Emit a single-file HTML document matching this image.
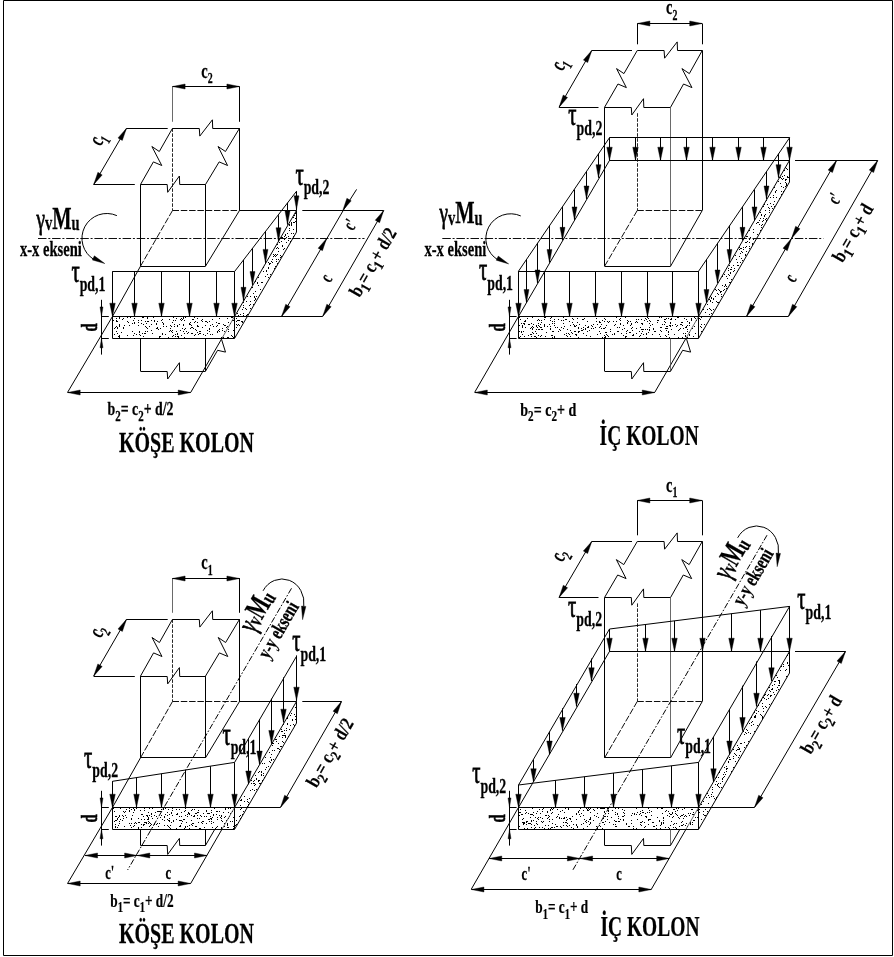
<!DOCTYPE html>
<html lang="tr"><head><meta charset="utf-8"><title>Zımbalama kayma gerilmeleri</title>
<style>
html,body{margin:0;padding:0;background:#fff;}
body{width:894px;height:957px;overflow:hidden;}
svg{display:block;will-change:transform;}
svg path{fill:none;stroke:#000;stroke-width:1;}
svg path.a{fill:#000;stroke:#000;stroke-width:.4;}
svg path.d{stroke-dasharray:6.5 1.8;stroke-width:.95;}
svg path.dv{stroke-dasharray:3.6 1.4;stroke-width:.85;}
svg path.axo{stroke-dasharray:6 1.8 1.6 1.8;stroke-width:1;}
svg path.ax{stroke-dasharray:8.5 1.8 2 1.8;stroke-width:.95;}
svg path.t{stroke:#444;stroke-width:.8;}
svg path.s{stroke:#000;stroke-width:1;}
svg tspan.n{font-weight:normal;stroke-width:.8;}
svg tspan.h{stroke-width:.6;}
svg text{font-family:"Liberation Serif","DejaVu Serif",serif;font-weight:bold;fill:#000;stroke:#000;stroke-width:.25;}
</style></head><body>
<svg width="894" height="957" viewBox="0 0 894 957">
<path d="M3.5 0.5H892.5V955.5H3.5Z"/>
<path class="t" d="M172.5 86.6L172.5 121.8"/>
<path d="M239.5 86.6L239.5 121.8"/>
<path d="M172.5 86.5L239.5 86.5"/>
<path class="a" d="M172.5 86.5L185.1 84L185.1 89Z"/>
<path class="a" d="M239.5 86.5L226.9 89L226.9 84Z"/>
<path d="M126.5 128.5L167.7 128.5"/>
<path d="M93.7 184.5L134.8 184.5"/>
<path d="M126.5 128.3L93.7 184.5"/>
<path class="a" d="M126.5 128.3L122.31 140.44L117.99 137.92Z"/>
<path class="a" d="M93.7 184.5L97.89 172.36L102.21 174.88Z"/>
<path d="M172.5 128.5L199.3 128.5L199.8 136.1L212.4 119.8L212.7 128.5L239.5 128.5"/>
<path d="M140.5 184.5L167.2 184.5L167.7 192.3L179.4 176L179.7 184.5L205.5 184.5"/>
<path d="M172.5 128.3L159.29 151.5L151.89 146.5L161.77 165.5L153.37 161.9L140.5 184.5"/>
<path d="M239.5 128.3L225.46 151.5L218.06 146.5L227.57 165.5L219.17 161.9L205.5 184.5"/>
<path d="M140.5 184.5L140.5 266.2"/>
<path d="M205.5 184.5L205.5 266.2"/>
<path d="M239.5 128.3L239.5 210.5"/>
<path d="M140.5 266.5L205.5 266.5"/>
<path d="M205.5 266.2L239.5 210.5"/>
<path class="dv" d="M172.5 128.3L172.5 210.5"/>
<path class="d" d="M172.5 210.5L239.5 210.5"/>
<path class="d" d="M172.5 210.5L140.5 266.2"/>
<path class="s" d="M122 316.5h1M124 316.5h1M127 316.5h1M133 316.5h1M135 316.5h1M138 316.5h1M155 316.5h1M162 316.5h1M168 316.5h1M172 316.5h1M179 316.5h1M207 316.5h1M208 316.5h1M232 316.5h1M119 317.5h1M127 317.5h1M130 317.5h1M142 317.5h1M143 317.5h1M147 317.5h1M153 317.5h1M173 317.5h1M183 317.5h1M185 317.5h1M194 317.5h1M231 317.5h1M232 317.5h1M234 317.5h1M116 318.5h1M119 318.5h1M123 318.5h1M134 318.5h1M147 318.5h1M176 318.5h1M181 318.5h1M183 318.5h1M197 318.5h1M219 318.5h1M227 318.5h1M122 319.5h1M162 319.5h1M169 319.5h1M180 319.5h1M182 319.5h1M192 319.5h1M193 319.5h1M202 319.5h1M212 319.5h1M113 320.5h1M116 320.5h1M133 320.5h1M138 320.5h1M141 320.5h1M151 320.5h1M154 320.5h1M161 320.5h1M173 320.5h1M175 320.5h1M181 320.5h1M184 320.5h1M201 320.5h1M232 320.5h1M233 320.5h1M116 321.5h1M117 321.5h1M127 321.5h1M145 321.5h1M147 321.5h1M148 321.5h1M154 321.5h1M157 321.5h1M195 321.5h1M202 321.5h1M205 321.5h1M206 321.5h1M209 321.5h1M128 322.5h1M134 322.5h1M138 322.5h1M162 322.5h1M172 322.5h1M190 322.5h1M194 322.5h1M197 322.5h1M207 322.5h1M216 322.5h1M228 322.5h1M234 322.5h1M132 323.5h1M134 323.5h1M141 323.5h1M146 323.5h1M156 323.5h1M163 323.5h1M189 323.5h1M218 323.5h1M219 323.5h1M230 323.5h1M119 324.5h1M143 324.5h1M151 324.5h1M156 324.5h1M163 324.5h1M174 324.5h1M179 324.5h1M183 324.5h1M189 324.5h1M190 324.5h1M212 324.5h1M223 324.5h1M119 325.5h1M124 325.5h1M129 325.5h1M138 325.5h1M170 325.5h1M177 325.5h1M183 325.5h1M191 325.5h1M197 325.5h1M205 325.5h1M210 325.5h1M217 325.5h1M224 325.5h1M225 325.5h1M116 326.5h1M119 326.5h1M145 326.5h1M149 326.5h1M163 326.5h1M166 326.5h1M171 326.5h1M174 326.5h1M177 326.5h1M197 326.5h1M198 326.5h1M213 326.5h1M216 326.5h1M227 326.5h1M112 327.5h1M115 327.5h1M117 327.5h1M123 327.5h1M146 327.5h1M157 327.5h1M191 327.5h1M192 327.5h1M202 327.5h1M226 327.5h1M114 328.5h1M117 328.5h1M123 328.5h1M147 328.5h1M156 328.5h1M157 328.5h1M160 328.5h1M170 328.5h1M182 328.5h1M185 328.5h1M190 328.5h1M193 328.5h1M209 328.5h1M222 328.5h1M234 328.5h1M158 329.5h1M184 329.5h1M195 329.5h1M209 329.5h1M219 329.5h1M228 329.5h1M151 330.5h1M170 330.5h1M172 330.5h1M180 330.5h1M196 330.5h1M207 330.5h1M218 330.5h1M222 330.5h1M233 330.5h1M116 331.5h1M132 331.5h1M139 331.5h1M145 331.5h1M147 331.5h1M169 331.5h1M171 331.5h1M176 331.5h1M183 331.5h1M186 331.5h1M199 331.5h1M200 331.5h1M209 331.5h1M217 331.5h1M219 331.5h1M224 331.5h1M228 331.5h1M234 331.5h1M121 332.5h1M139 332.5h1M172 332.5h1M188 332.5h1M197 332.5h1M217 332.5h1M117 333.5h1M134 333.5h1M142 333.5h1M144 333.5h1M145 333.5h1M152 333.5h1M162 333.5h1M177 333.5h1M184 333.5h1M187 333.5h1M191 333.5h1M192 333.5h1M199 333.5h1M200 333.5h1M207 333.5h1M114 334.5h1M136 334.5h1M139 334.5h1M162 334.5h1M165 334.5h1M175 334.5h1M177 334.5h1M195 334.5h1M198 334.5h1M203 334.5h1M210 334.5h1M212 334.5h1M119 335.5h1M127 335.5h1M133 335.5h1M140 335.5h1M173 335.5h1M181 335.5h1M194 335.5h1M205 335.5h1M231 335.5h1M118 336.5h1M119 336.5h1M143 336.5h1M159 336.5h1M160 336.5h1M172 336.5h1M175 336.5h1M177 336.5h1M178 336.5h1M232 336.5h1M119 337.5h1M159 337.5h1M168 337.5h1M178 337.5h1M184 337.5h1M221 337.5h1M223 337.5h1M227 337.5h1M228 337.5h1M233 337.5h1"/>
<path class="s" d="M295 213.5h1M294 215.5h1M293 217.5h1M295 218.5h1M295 221.5h1M291 222.5h1M293 222.5h1M294 222.5h1M291 223.5h1M289 224.5h1M291 224.5h1M289 225.5h1M291 225.5h1M289 228.5h1M293 229.5h1M289 230.5h1M287 233.5h1M291 233.5h1M293 233.5h1M285 234.5h1M285 235.5h1M284 236.5h1M288 236.5h1M293 236.5h1M281 237.5h1M282 237.5h1M286 237.5h1M282 238.5h1M290 238.5h1M284 239.5h1M288 240.5h1M281 241.5h1M290 241.5h1M279 242.5h1M286 242.5h1M277 244.5h1M282 245.5h1M282 246.5h1M277 247.5h1M276 248.5h1M278 248.5h1M284 248.5h1M283 249.5h1M278 251.5h1M273 254.5h1M275 254.5h1M277 254.5h1M274 255.5h1M276 255.5h1M280 255.5h1M273 256.5h1M275 256.5h1M281 256.5h1M280 257.5h1M268 258.5h1M272 259.5h1M276 259.5h1M278 259.5h1M271 261.5h1M276 261.5h1M268 262.5h1M272 262.5h1M269 263.5h1M270 263.5h1M277 263.5h1M269 264.5h1M275 266.5h1M263 267.5h1M268 267.5h1M268 268.5h1M274 268.5h1M266 270.5h1M263 271.5h1M266 271.5h1M267 274.5h1M270 274.5h1M265 276.5h1M270 276.5h1M258 277.5h1M268 277.5h1M255 281.5h1M257 282.5h1M261 282.5h1M262 282.5h1M257 283.5h1M258 285.5h1M252 287.5h1M260 289.5h1M255 291.5h1M253 293.5h1M247 296.5h1M250 296.5h1M254 296.5h1M256 296.5h1M254 297.5h1M255 298.5h1M255 299.5h1M254 300.5h1M246 301.5h1M250 301.5h1M243 302.5h1M250 304.5h1M253 304.5h1M243 305.5h1M249 305.5h1M243 307.5h1M245 308.5h1M250 308.5h1M242 309.5h1M246 309.5h1M237 313.5h1M243 313.5h1M240 314.5h1M247 314.5h1M238 315.5h1M243 315.5h1M246 315.5h1M236 318.5h1M237 320.5h1M238 320.5h1M239 320.5h1M236 321.5h1M241 321.5h1M242 321.5h1M242 322.5h1M236 324.5h1M238 324.5h1M237 325.5h1M239 325.5h1M236 327.5h1"/>
<path d="M112.5 316.5L234.5 316.5L234.5 338.5L112.5 338.5Z"/>
<path d="M234.6 316.4L296.5 210.5L296.5 232.1L234.6 338.3"/>
<path d="M239.5 210.5L296.4 210.5"/>
<path d="M140.5 266.2L112.5 316.4L67.6 392.3"/>
<path class="t" d="M234.6 316.4L221.96 338.3"/>
<path d="M221.96 338.3L190.78 392.3"/>
<path d="M67.6 392.5L190.78 392.5"/>
<path class="a" d="M67.6 392.5L80.2 390L80.2 395Z"/>
<path class="a" d="M190.78 392.5L178.18 395L178.18 390Z"/>
<path d="M140.5 338.3L140.5 371.2"/>
<path d="M205.5 338.3L205.5 371.2"/>
<path d="M140.5 371.5L167.2 371.5L167.7 379L179.4 362.7L179.7 371.5L205.5 371.5"/>
<path d="M205.5 371.2L217.57 350.3L225.5 352.1L221.5 339.2L222.1 338.3"/>
<path d="M101.5 299.8L101.5 354.6"/>
<path class="a" d="M101.5 316.4L100 306.9L103 306.9Z"/>
<path class="a" d="M101.5 338.3L103 347.8L100 347.8Z"/>
<path d="M101.5 316.5L108.8 316.5"/>
<path d="M101.5 338.5L108.8 338.5"/>
<text transform="translate(97.1 327.4) rotate(-90) scale(0.66 1)" text-anchor="middle"><tspan font-size="22.5" class="h">d</tspan></text>
<path d="M112.5 316.4L112.5 271.5L234.6 271.5"/>
<path d="M112.5 271.5L112.5 316.4"/>
<path class="a" d="M112.5 316.4L109.75 303.2L115.25 303.2Z"/>
<path d="M134.5 271.5L134.5 316.4"/>
<path class="a" d="M134.5 316.4L131.75 303.2L137.25 303.2Z"/>
<path d="M161.5 271.5L161.5 316.4"/>
<path class="a" d="M161.5 316.4L158.75 303.2L164.25 303.2Z"/>
<path d="M189.5 271.5L189.5 316.4"/>
<path class="a" d="M189.5 316.4L186.75 303.2L192.25 303.2Z"/>
<path d="M216.5 271.5L216.5 316.4"/>
<path class="a" d="M216.5 316.4L213.75 303.2L219.25 303.2Z"/>
<path d="M234.5 271.5L234.5 316.4"/>
<path class="a" d="M234.5 316.4L231.75 303.2L237.25 303.2Z"/>
<path d="M234.6 271.5L296.4 191.4"/>
<path d="M296.5 191.4L296.5 210.5"/>
<path d="M243.5 259.83L243.5 300.81"/>
<path class="a" d="M243.5 300.81L241 287.31L246 287.31Z"/>
<path d="M252.5 248.04L252.5 285.05"/>
<path class="a" d="M252.5 285.05L250 271.55L255 271.55Z"/>
<path d="M265.5 231.45L265.5 262.88"/>
<path class="a" d="M265.5 262.88L263 249.38L268 249.38Z"/>
<path d="M278.5 215.25L278.5 241.23"/>
<path class="a" d="M278.5 241.23L276 227.73L281 227.73Z"/>
<path d="M287.5 202.81L287.5 224.6"/>
<path class="a" d="M287.5 224.6L285 211.1L290 211.1Z"/>
<path d="M296.5 191.4L296.5 209.36"/>
<path class="a" d="M296.5 209.36L294 195.86L299 195.86Z"/>
<path d="M234.6 316.5L322.7 316.5"/>
<path d="M302.3 210.5L383.7 210.5"/>
<path d="M322.7 316.4L383.7 210.5"/>
<path class="a" d="M322.7 316.4L326.82 304.23L331.16 306.73Z"/>
<path class="a" d="M383.7 210.5L379.58 222.67L375.24 220.17Z"/>
<path d="M281.6 316.4L343.2 210.5L356.6 189.4"/>
<path class="a" d="M281.6 316.4L285.73 304.24L290.07 306.74Z"/>
<path class="a" d="M326.58 238.5L322.44 250.66L318.11 248.16Z"/>
<path class="a" d="M342.74 210.5L346.88 198.34L351.21 200.84Z"/>
<path class="ax" d="M38 238.5L364.5 238.5"/>
<path d="M116.89 215.64 A24.8 24.8 0 0 0 94.03 259.56"/>
<path class="a" d="M104.8 263.6L92.32 259.93L94.38 255.82Z"/>
<text transform="translate(36.6 228.8) scale(0.66 1)"><tspan font-size="29" class="n">γ</tspan><tspan font-size="22" dy="1.5">v</tspan><tspan font-size="31" dy="-1.5">M</tspan><tspan font-size="22" dy="1.5">u</tspan></text>
<text transform="translate(20 256.3) scale(0.71 1)"><tspan font-size="20.5">x-x ekseni</tspan></text>
<text transform="translate(71.4 281.6) scale(0.66 1)"><tspan font-size="31" class="n">τ</tspan><tspan font-size="21" dy="9.4">pd,1</tspan></text>
<text transform="translate(295.4 185) scale(0.66 1)"><tspan font-size="31" class="n">τ</tspan><tspan font-size="21" dy="9.4">pd,2</tspan></text>
<text transform="translate(353.1 231.5) rotate(-60) scale(0.66 1)"><tspan font-size="19">c'</tspan></text>
<text transform="translate(330 283.5) rotate(-60) scale(0.66 1)"><tspan font-size="19">c</tspan></text>
<text transform="translate(378.3 265.3) rotate(-60) scale(0.76 0.92)" text-anchor="middle"><tspan font-size="21">b</tspan><tspan font-size="16" dy="5.5">1</tspan><tspan font-size="21" dy="-5.5">= c</tspan><tspan font-size="16" dy="5.5">1</tspan><tspan font-size="21" dy="-5.5">+ d/2</tspan></text>
<text transform="translate(107.5 415.2) scale(0.73 1)"><tspan font-size="19">b</tspan><tspan font-size="15" dy="5.5">2</tspan><tspan font-size="19" dy="-5.5">= c</tspan><tspan font-size="15" dy="5.5">2</tspan><tspan font-size="19" dy="-5.5">+ d/2</tspan></text>
<text transform="translate(119 451.6) scale(0.66 1)"><tspan font-size="30.3">KÖŞE KOLON</tspan></text>
<text transform="translate(201.2 77.6) scale(0.66 1)"><tspan font-size="22">c</tspan><tspan font-size="15" dy="5.5">2</tspan></text>
<text transform="translate(100.5 147) rotate(-60) scale(0.66 1)"><tspan font-size="22">c</tspan><tspan font-size="15" dy="5.5">1</tspan></text>
<path d="M637.5 23.8L637.5 44.3"/>
<path d="M702.5 23.8L702.5 44.3"/>
<path d="M637.3 23.5L702.3 23.5"/>
<path class="a" d="M637.3 23.5L649.9 21L649.9 26Z"/>
<path class="a" d="M702.3 23.5L689.7 26L689.7 21Z"/>
<path d="M591.8 50.5L632 50.5"/>
<path d="M559.1 107.5L598.5 107.5"/>
<path d="M591.8 50.4L559.1 107.2"/>
<path class="a" d="M591.8 50.4L587.68 62.57L583.35 60.07Z"/>
<path class="a" d="M559.1 107.2L563.22 95.03L567.55 97.53Z"/>
<path d="M637.3 50.5L664.1 50.5L664.6 58.2L677.2 41.9L677.5 50.5L702.3 50.5"/>
<path d="M604.6 107.5L631.3 107.5L631.8 115L643.5 98.7L643.8 107.5L670.6 107.5"/>
<path d="M637.3 50.4L623.94 73.6L616.54 68.6L626.36 87.6L617.96 84L604.6 107.2"/>
<path d="M702.3 50.4L689.35 73.6L681.95 68.6L691.95 87.6L683.55 84L670.6 107.2"/>
<path d="M604.5 107.2L604.5 266.2"/>
<path class="t" d="M670.5 107.2L670.5 266.2"/>
<path d="M702.5 50.4L702.5 210.4"/>
<path d="M604.6 266.5L670.6 266.5"/>
<path d="M670.6 266.2L702.3 210.4"/>
<path class="dv" d="M637.5 113.2L637.5 210.4"/>
<path class="d" d="M637.3 210.5L702.3 210.5"/>
<path class="d" d="M637.3 210.4L604.6 266.2"/>
<path class="s" d="M541 316.5h1M545 316.5h1M561 316.5h1M571 316.5h1M576 316.5h1M583 316.5h1M587 316.5h1M611 316.5h1M629 316.5h1M646 316.5h1M648 316.5h1M653 316.5h1M660 316.5h1M664 316.5h1M677 316.5h1M690 316.5h1M519 317.5h1M532 317.5h1M544 317.5h1M545 317.5h1M551 317.5h1M563 317.5h1M616 317.5h1M625 317.5h1M647 317.5h1M659 317.5h1M661 317.5h1M677 317.5h1M678 317.5h1M694 317.5h1M527 318.5h1M550 318.5h1M572 318.5h1M577 318.5h1M584 318.5h1M596 318.5h1M604 318.5h1M620 318.5h1M645 318.5h1M648 318.5h1M666 318.5h1M668 318.5h1M671 318.5h1M684 318.5h1M691 318.5h1M695 318.5h1M698 318.5h1M520 319.5h1M538 319.5h1M544 319.5h1M554 319.5h1M558 319.5h1M565 319.5h1M566 319.5h1M573 319.5h1M582 319.5h1M583 319.5h1M605 319.5h1M619 319.5h1M636 319.5h1M638 319.5h1M641 319.5h1M646 319.5h1M664 319.5h1M665 319.5h1M670 319.5h1M671 319.5h1M675 319.5h1M686 319.5h1M691 319.5h1M525 320.5h1M537 320.5h1M539 320.5h1M541 320.5h1M550 320.5h1M561 320.5h1M563 320.5h1M602 320.5h1M620 320.5h1M627 320.5h1M644 320.5h1M649 320.5h1M657 320.5h1M658 320.5h1M691 320.5h1M696 320.5h1M524 321.5h1M525 321.5h1M552 321.5h1M554 321.5h1M569 321.5h1M587 321.5h1M596 321.5h1M599 321.5h1M604 321.5h1M607 321.5h1M609 321.5h1M613 321.5h1M616 321.5h1M628 321.5h1M630 321.5h1M636 321.5h1M647 321.5h1M650 321.5h1M664 321.5h1M687 321.5h1M541 322.5h1M572 322.5h1M577 322.5h1M599 322.5h1M600 322.5h1M608 322.5h1M627 322.5h1M635 322.5h1M637 322.5h1M657 322.5h1M665 322.5h1M670 322.5h1M681 322.5h1M682 322.5h1M689 322.5h1M521 323.5h1M523 323.5h1M524 323.5h1M531 323.5h1M538 323.5h1M552 323.5h1M554 323.5h1M563 323.5h1M620 323.5h1M627 323.5h1M631 323.5h1M641 323.5h1M642 323.5h1M649 323.5h1M670 323.5h1M689 323.5h1M524 324.5h1M528 324.5h1M529 324.5h1M533 324.5h1M540 324.5h1M544 324.5h1M549 324.5h1M573 324.5h1M579 324.5h1M593 324.5h1M597 324.5h1M601 324.5h1M615 324.5h1M620 324.5h1M631 324.5h1M642 324.5h1M652 324.5h1M662 324.5h1M664 324.5h1M675 324.5h1M680 324.5h1M681 324.5h1M518 325.5h1M519 325.5h1M522 325.5h1M536 325.5h1M538 325.5h1M544 325.5h1M554 325.5h1M570 325.5h1M574 325.5h1M576 325.5h1M585 325.5h1M591 325.5h1M606 325.5h1M614 325.5h1M623 325.5h1M630 325.5h1M650 325.5h1M669 325.5h1M670 325.5h1M672 325.5h1M677 325.5h1M682 325.5h1M687 325.5h1M689 325.5h1M522 326.5h1M532 326.5h1M536 326.5h1M539 326.5h1M544 326.5h1M547 326.5h1M550 326.5h1M564 326.5h1M574 326.5h1M575 326.5h1M588 326.5h1M592 326.5h1M600 326.5h1M666 326.5h1M667 326.5h1M670 326.5h1M676 326.5h1M686 326.5h1M694 326.5h1M522 327.5h1M525 327.5h1M531 327.5h1M533 327.5h1M537 327.5h1M540 327.5h1M541 327.5h1M555 327.5h1M557 327.5h1M561 327.5h1M578 327.5h1M583 327.5h1M587 327.5h1M588 327.5h1M595 327.5h1M599 327.5h1M605 327.5h1M617 327.5h1M619 327.5h1M632 327.5h1M640 327.5h1M649 327.5h1M660 327.5h1M661 327.5h1M685 327.5h1M686 327.5h1M530 328.5h1M532 328.5h1M550 328.5h1M563 328.5h1M578 328.5h1M581 328.5h1M585 328.5h1M591 328.5h1M593 328.5h1M601 328.5h1M603 328.5h1M604 328.5h1M624 328.5h1M631 328.5h1M636 328.5h1M653 328.5h1M665 328.5h1M666 328.5h1M667 328.5h1M680 328.5h1M683 328.5h1M692 328.5h1M532 329.5h1M536 329.5h1M538 329.5h1M539 329.5h1M541 329.5h1M542 329.5h1M550 329.5h1M559 329.5h1M567 329.5h1M583 329.5h1M585 329.5h1M610 329.5h1M622 329.5h1M641 329.5h1M642 329.5h1M643 329.5h1M645 329.5h1M647 329.5h1M649 329.5h1M653 329.5h1M671 329.5h1M679 329.5h1M687 329.5h1M560 330.5h1M570 330.5h1M581 330.5h1M582 330.5h1M589 330.5h1M627 330.5h1M632 330.5h1M649 330.5h1M660 330.5h1M666 330.5h1M678 330.5h1M519 331.5h1M521 331.5h1M523 331.5h1M535 331.5h1M552 331.5h1M553 331.5h1M558 331.5h1M574 331.5h1M575 331.5h1M578 331.5h1M579 331.5h1M587 331.5h1M599 331.5h1M610 331.5h1M617 331.5h1M618 331.5h1M626 331.5h1M639 331.5h1M642 331.5h1M654 331.5h1M655 331.5h1M661 331.5h1M668 331.5h1M687 331.5h1M521 332.5h1M532 332.5h1M546 332.5h1M571 332.5h1M578 332.5h1M605 332.5h1M606 332.5h1M629 332.5h1M630 332.5h1M648 332.5h1M668 332.5h1M689 332.5h1M533 333.5h1M536 333.5h1M566 333.5h1M568 333.5h1M572 333.5h1M583 333.5h1M600 333.5h1M614 333.5h1M621 333.5h1M626 333.5h1M636 333.5h1M641 333.5h1M646 333.5h1M683 333.5h1M685 333.5h1M695 333.5h1M522 334.5h1M530 334.5h1M531 334.5h1M564 334.5h1M569 334.5h1M575 334.5h1M576 334.5h1M597 334.5h1M606 334.5h1M612 334.5h1M614 334.5h1M633 334.5h1M643 334.5h1M646 334.5h1M652 334.5h1M659 334.5h1M668 334.5h1M674 334.5h1M689 334.5h1M518 335.5h1M528 335.5h1M538 335.5h1M541 335.5h1M551 335.5h1M552 335.5h1M566 335.5h1M576 335.5h1M586 335.5h1M604 335.5h1M607 335.5h1M623 335.5h1M632 335.5h1M633 335.5h1M640 335.5h1M665 335.5h1M685 335.5h1M689 335.5h1M518 336.5h1M520 336.5h1M524 336.5h1M531 336.5h1M534 336.5h1M535 336.5h1M540 336.5h1M545 336.5h1M554 336.5h1M567 336.5h1M570 336.5h1M590 336.5h1M605 336.5h1M608 336.5h1M625 336.5h1M626 336.5h1M639 336.5h1M660 336.5h1M666 336.5h1M685 336.5h1M693 336.5h1M519 337.5h1M536 337.5h1M552 337.5h1M554 337.5h1M578 337.5h1M602 337.5h1M604 337.5h1M605 337.5h1M625 337.5h1M646 337.5h1M669 337.5h1M678 337.5h1M682 337.5h1M687 337.5h1"/>
<path class="s" d="M789 164.5h1M789 166.5h1M785 167.5h1M786 168.5h1M787 169.5h1M789 169.5h1M784 170.5h1M784 175.5h1M782 176.5h1M787 176.5h1M780 177.5h1M787 177.5h1M788 177.5h1M789 177.5h1M781 178.5h1M783 178.5h1M782 179.5h1M785 179.5h1M786 179.5h1M785 180.5h1M778 181.5h1M785 182.5h1M780 183.5h1M786 183.5h1M786 184.5h1M786 185.5h1M781 186.5h1M785 186.5h1M774 187.5h1M783 187.5h1M776 190.5h1M775 191.5h1M781 191.5h1M783 191.5h1M775 192.5h1M781 194.5h1M773 195.5h1M770 197.5h1M773 197.5h1M776 197.5h1M779 198.5h1M766 200.5h1M774 201.5h1M770 203.5h1M764 204.5h1M767 204.5h1M773 204.5h1M763 206.5h1M771 206.5h1M774 206.5h1M768 207.5h1M769 208.5h1M772 208.5h1M765 210.5h1M769 210.5h1M760 212.5h1M769 212.5h1M761 214.5h1M765 214.5h1M761 215.5h1M764 215.5h1M764 216.5h1M760 218.5h1M763 218.5h1M766 218.5h1M765 219.5h1M759 220.5h1M763 220.5h1M766 220.5h1M762 221.5h1M757 222.5h1M758 222.5h1M756 223.5h1M759 224.5h1M762 224.5h1M761 225.5h1M761 227.5h1M753 229.5h1M749 230.5h1M760 230.5h1M753 232.5h1M757 234.5h1M746 236.5h1M747 236.5h1M750 237.5h1M749 239.5h1M753 239.5h1M755 240.5h1M747 241.5h1M745 242.5h1M746 242.5h1M749 242.5h1M752 243.5h1M752 244.5h1M746 246.5h1M749 246.5h1M739 247.5h1M743 247.5h1M745 247.5h1M740 248.5h1M741 248.5h1M749 248.5h1M739 249.5h1M743 249.5h1M736 251.5h1M741 251.5h1M746 251.5h1M742 252.5h1M740 253.5h1M745 254.5h1M735 255.5h1M745 255.5h1M739 256.5h1M732 258.5h1M741 258.5h1M736 259.5h1M742 260.5h1M737 262.5h1M740 262.5h1M729 265.5h1M733 265.5h1M737 265.5h1M738 265.5h1M731 267.5h1M728 268.5h1M734 268.5h1M730 269.5h1M731 269.5h1M728 270.5h1M734 270.5h1M733 271.5h1M730 272.5h1M730 273.5h1M724 274.5h1M728 274.5h1M729 275.5h1M722 276.5h1M726 276.5h1M727 278.5h1M731 279.5h1M729 282.5h1M730 282.5h1M725 284.5h1M722 285.5h1M725 285.5h1M724 286.5h1M726 286.5h1M726 288.5h1M715 289.5h1M718 289.5h1M724 289.5h1M716 290.5h1M719 290.5h1M723 290.5h1M720 291.5h1M721 291.5h1M720 292.5h1M717 293.5h1M718 294.5h1M721 294.5h1M710 296.5h1M715 296.5h1M721 296.5h1M711 297.5h1M711 298.5h1M713 298.5h1M709 299.5h1M713 299.5h1M710 300.5h1M710 301.5h1M716 301.5h1M712 302.5h1M717 302.5h1M718 302.5h1M707 304.5h1M709 308.5h1M703 309.5h1M707 309.5h1M710 309.5h1M713 309.5h1M711 310.5h1M705 312.5h1M711 313.5h1M709 314.5h1M707 316.5h1M701 317.5h1M699 318.5h1M700 319.5h1M701 324.5h1M704 324.5h1M700 326.5h1M701 327.5h1M703 329.5h1M701 331.5h1"/>
<path d="M518.5 316.5L698.5 316.5L698.5 338.5L518.5 338.5Z"/>
<path d="M698.6 316.4L789.5 160.4L789.5 182L698.6 338.3"/>
<path d="M609.5 160.5L789.6 160.5"/>
<path d="M609.5 160.4L518.5 316.4L474.74 392.2"/>
<path class="t" d="M698.6 316.4L685.96 338.3"/>
<path d="M685.96 338.3L654.84 392.2"/>
<path d="M474.74 392.5L654.84 392.5"/>
<path class="a" d="M474.74 392.5L487.34 390L487.34 395Z"/>
<path class="a" d="M654.84 392.5L642.24 395L642.24 390Z"/>
<path d="M604.5 338.3L604.5 371.2"/>
<path class="t" d="M670.5 338.3L670.5 371.2"/>
<path d="M604.6 371.5L631.3 371.5L631.8 379L643.5 362.7L643.8 371.5L670.6 371.5"/>
<path d="M670.6 371.2L682.67 350.3L690.6 352.1L686.6 339.2L687.2 338.3"/>
<path d="M509.5 299.8L509.5 354.6"/>
<path class="a" d="M509.5 316.4L508 306.9L511 306.9Z"/>
<path class="a" d="M509.5 338.3L511 347.8L508 347.8Z"/>
<path d="M509.3 316.5L516.6 316.5"/>
<path d="M509.3 338.5L516.6 338.5"/>
<text transform="translate(504.9 327.4) rotate(-90) scale(0.66 1)" text-anchor="middle"><tspan font-size="22.5" class="h">d</tspan></text>
<path d="M518.5 316.4L518.5 271.5L698.5 271.5L698.5 316.4"/>
<path d="M518.5 271.2L518.5 316.4"/>
<path class="a" d="M518.5 316.4L515.75 303.2L521.25 303.2Z"/>
<path d="M544.5 271.2L544.5 316.4"/>
<path class="a" d="M544.5 316.4L541.75 303.2L547.25 303.2Z"/>
<path d="M569.5 271.2L569.5 316.4"/>
<path class="a" d="M569.5 316.4L566.75 303.2L572.25 303.2Z"/>
<path d="M595.5 271.2L595.5 316.4"/>
<path class="a" d="M595.5 316.4L592.75 303.2L598.25 303.2Z"/>
<path d="M621.5 271.2L621.5 316.4"/>
<path class="a" d="M621.5 316.4L618.75 303.2L624.25 303.2Z"/>
<path d="M647.5 271.2L647.5 316.4"/>
<path class="a" d="M647.5 316.4L644.75 303.2L650.25 303.2Z"/>
<path d="M672.5 271.2L672.5 316.4"/>
<path class="a" d="M672.5 316.4L669.75 303.2L675.25 303.2Z"/>
<path d="M698.5 271.2L698.5 316.4"/>
<path class="a" d="M698.5 316.4L695.75 303.2L701.25 303.2Z"/>
<path d="M609.5 160.4L609.5 137.5L789.5 137.5L789.5 160.4"/>
<path d="M609.5 137.7L609.5 160.4"/>
<path class="a" d="M609.5 160.4L606.75 147.2L612.25 147.2Z"/>
<path d="M635.5 137.7L635.5 160.4"/>
<path class="a" d="M635.5 160.4L632.75 147.2L638.25 147.2Z"/>
<path d="M660.5 137.7L660.5 160.4"/>
<path class="a" d="M660.5 160.4L657.75 147.2L663.25 147.2Z"/>
<path d="M686.5 137.7L686.5 160.4"/>
<path class="a" d="M686.5 160.4L683.75 147.2L689.25 147.2Z"/>
<path d="M712.5 137.7L712.5 160.4"/>
<path class="a" d="M712.5 160.4L709.75 147.2L715.25 147.2Z"/>
<path d="M738.5 137.7L738.5 160.4"/>
<path class="a" d="M738.5 160.4L735.75 147.2L741.25 147.2Z"/>
<path d="M763.5 137.7L763.5 160.4"/>
<path class="a" d="M763.5 160.4L760.75 147.2L766.25 147.2Z"/>
<path d="M789.5 137.7L789.5 160.4"/>
<path class="a" d="M789.5 160.4L786.75 147.2L792.25 147.2Z"/>
<path d="M518.5 271.2L609.5 137.7"/>
<path d="M698.6 271.2L789.6 137.7"/>
<path d="M526.5 259.46L526.5 302.54"/>
<path class="a" d="M526.5 302.54L524 289.54L529 289.54Z"/>
<path d="M706.5 259.46L706.5 302.54"/>
<path class="a" d="M706.5 302.54L704 289.54L709 289.54Z"/>
<path d="M537.5 242.89L537.5 282.97"/>
<path class="a" d="M537.5 282.97L535 269.97L540 269.97Z"/>
<path d="M717.5 242.89L717.5 282.97"/>
<path class="a" d="M717.5 282.97L715 269.97L720 269.97Z"/>
<path d="M549.5 225.58L549.5 262.53"/>
<path class="a" d="M549.5 262.53L547 249.53L552 249.53Z"/>
<path d="M729.5 225.58L729.5 262.53"/>
<path class="a" d="M729.5 262.53L727 249.53L732 249.53Z"/>
<path d="M562.5 206.8L562.5 240.36"/>
<path class="a" d="M562.5 240.36L560 227.36L565 227.36Z"/>
<path d="M742.5 206.8L742.5 240.36"/>
<path class="a" d="M742.5 240.36L740 227.36L745 227.36Z"/>
<path d="M574.5 189.49L574.5 219.92"/>
<path class="a" d="M574.5 219.92L572 206.92L577 206.92Z"/>
<path d="M754.5 189.49L754.5 219.92"/>
<path class="a" d="M754.5 219.92L752 206.92L757 206.92Z"/>
<path d="M586.5 171.74L586.5 198.97"/>
<path class="a" d="M586.5 198.97L584 185.97L589 185.97Z"/>
<path d="M766.5 171.74L766.5 198.97"/>
<path class="a" d="M766.5 198.97L764 185.97L769 185.97Z"/>
<path d="M598.5 153.69L598.5 177.66"/>
<path class="a" d="M598.5 177.66L596 164.66L601 164.66Z"/>
<path d="M778.5 153.69L778.5 177.66"/>
<path class="a" d="M778.5 177.66L776 164.66L781 164.66Z"/>
<path d="M698.6 316.5L788.4 316.5"/>
<path d="M795 160.5L877.7 160.5"/>
<path d="M788.4 316.4L877.7 160.4"/>
<path class="a" d="M788.4 316.4L792.49 304.22L796.83 306.71Z"/>
<path class="a" d="M877.7 160.4L873.61 172.58L869.27 170.09Z"/>
<path d="M746.5 316.4L836.57 160.4"/>
<path class="a" d="M746.5 316.4L750.63 304.24L754.97 306.74Z"/>
<path class="a" d="M836.57 160.4L832.43 172.56L828.1 170.06Z"/>
<path class="a" d="M791.48 238.5L787.34 250.66L783.01 248.16Z"/>
<path class="a" d="M791.48 238.5L795.61 226.34L799.94 228.84Z"/>
<path class="ax" d="M442.3 238.5L823.3 238.5"/>
<path d="M520.79 215.94 A24.8 24.8 0 0 0 497.93 259.86"/>
<path class="a" d="M508.7 263.9L496.22 260.23L498.28 256.12Z"/>
<text transform="translate(439.6 223) scale(0.66 1)"><tspan font-size="29" class="n">γ</tspan><tspan font-size="22" dy="1.5">v</tspan><tspan font-size="31" dy="-1.5">M</tspan><tspan font-size="22" dy="1.5">u</tspan></text>
<text transform="translate(424.5 256.3) scale(0.71 1)"><tspan font-size="20.5">x-x ekseni</tspan></text>
<text transform="translate(479 280.3) scale(0.66 1)"><tspan font-size="31" class="n">τ</tspan><tspan font-size="21" dy="9.4">pd,1</tspan></text>
<text transform="translate(568.3 125.2) scale(0.66 1)"><tspan font-size="31" class="n">τ</tspan><tspan font-size="21" dy="9.4">pd,2</tspan></text>
<text transform="translate(837.5 205.5) rotate(-60) scale(0.66 1)"><tspan font-size="19">c'</tspan></text>
<text transform="translate(794.3 283.5) rotate(-60) scale(0.66 1)"><tspan font-size="19">c</tspan></text>
<text transform="translate(858.2 235.9) rotate(-60) scale(0.76 0.92)" text-anchor="middle"><tspan font-size="21">b</tspan><tspan font-size="16" dy="5.5">1</tspan><tspan font-size="21" dy="-5.5">= c</tspan><tspan font-size="16" dy="5.5">1</tspan><tspan font-size="21" dy="-5.5">+ d</tspan></text>
<text transform="translate(520.3 415.6) scale(0.74 1)"><tspan font-size="19">b</tspan><tspan font-size="15" dy="5.5">2</tspan><tspan font-size="19" dy="-5.5">= c</tspan><tspan font-size="15" dy="5.5">2</tspan><tspan font-size="19" dy="-5.5">+ d</tspan></text>
<text transform="translate(599.6 445.3) scale(0.65 1)"><tspan font-size="30">İÇ KOLON</tspan></text>
<text transform="translate(666 14) scale(0.66 1)"><tspan font-size="22">c</tspan><tspan font-size="15" dy="5.5">2</tspan></text>
<text transform="translate(562.2 72) rotate(-60) scale(0.66 1)"><tspan font-size="22">c</tspan><tspan font-size="15" dy="5.5">1</tspan></text>
<path class="t" d="M172.5 578.1L172.5 612.8"/>
<path d="M239.5 578.1L239.5 612.8"/>
<path d="M172.5 578.5L239.5 578.5"/>
<path class="a" d="M172.5 578.5L185.1 576L185.1 581Z"/>
<path class="a" d="M239.5 578.5L226.9 581L226.9 576Z"/>
<path d="M126.5 619.5L167.7 619.5"/>
<path d="M93.7 676.5L134.8 676.5"/>
<path d="M126.5 619.3L93.7 676.1"/>
<path class="a" d="M126.5 619.3L122.36 631.46L118.03 628.96Z"/>
<path class="a" d="M93.7 676.1L97.84 663.94L102.17 666.44Z"/>
<path d="M172.5 619.5L199.3 619.5L199.8 627.1L212.4 610.8L212.7 619.5L239.5 619.5"/>
<path d="M140.5 676.5L167.2 676.5L167.7 683.9L179.4 667.6L179.7 676.5L205.5 676.5"/>
<path d="M172.5 619.3L159.43 642.5L152.03 637.5L161.97 656.5L153.57 652.9L140.5 676.1"/>
<path d="M239.5 619.3L225.61 642.5L218.21 637.5L227.79 656.5L219.39 652.9L205.5 676.1"/>
<path d="M140.5 676.1L140.5 757.8"/>
<path d="M205.5 676.1L205.5 757.8"/>
<path d="M239.5 619.3L239.5 701.5"/>
<path d="M140.5 757.5L205.5 757.5"/>
<path d="M205.5 757.8L239.5 701.5"/>
<path class="dv" d="M172.5 619.3L172.5 701.5"/>
<path class="d" d="M172.5 701.5L239.5 701.5"/>
<path class="d" d="M172.5 701.5L140.5 757.8"/>
<path class="s" d="M114 807.5h1M118 807.5h1M121 807.5h1M125 807.5h1M129 807.5h1M140 807.5h1M142 807.5h1M160 807.5h1M162 807.5h1M199 807.5h1M212 807.5h1M219 807.5h1M221 807.5h1M227 807.5h1M231 807.5h1M113 808.5h1M120 808.5h1M129 808.5h1M133 808.5h1M136 808.5h1M144 808.5h1M149 808.5h1M152 808.5h1M163 808.5h1M165 808.5h1M172 808.5h1M185 808.5h1M214 808.5h1M225 808.5h1M228 808.5h1M230 808.5h1M126 809.5h1M131 809.5h1M134 809.5h1M161 809.5h1M163 809.5h1M168 809.5h1M176 809.5h1M179 809.5h1M192 809.5h1M194 809.5h1M225 809.5h1M129 810.5h1M134 810.5h1M140 810.5h1M144 810.5h1M172 810.5h1M185 810.5h1M191 810.5h1M198 810.5h1M206 810.5h1M211 810.5h1M114 811.5h1M123 811.5h1M125 811.5h1M129 811.5h1M157 811.5h1M158 811.5h1M159 811.5h1M160 811.5h1M184 811.5h1M206 811.5h1M216 811.5h1M217 811.5h1M219 811.5h1M232 811.5h1M124 812.5h1M133 812.5h1M148 812.5h1M155 812.5h1M167 812.5h1M171 812.5h1M181 812.5h1M188 812.5h1M197 812.5h1M198 812.5h1M211 812.5h1M223 812.5h1M228 812.5h1M234 812.5h1M151 813.5h1M171 813.5h1M177 813.5h1M188 813.5h1M189 813.5h1M195 813.5h1M196 813.5h1M203 813.5h1M207 813.5h1M208 813.5h1M209 813.5h1M230 813.5h1M141 814.5h1M142 814.5h1M151 814.5h1M165 814.5h1M169 814.5h1M176 814.5h1M177 814.5h1M187 814.5h1M189 814.5h1M213 814.5h1M216 814.5h1M119 815.5h1M122 815.5h1M125 815.5h1M132 815.5h1M146 815.5h1M147 815.5h1M149 815.5h1M154 815.5h1M161 815.5h1M167 815.5h1M172 815.5h1M185 815.5h1M191 815.5h1M194 815.5h1M197 815.5h1M200 815.5h1M213 815.5h1M219 815.5h1M221 815.5h1M115 816.5h1M116 816.5h1M119 816.5h1M123 816.5h1M143 816.5h1M147 816.5h1M151 816.5h1M156 816.5h1M164 816.5h1M179 816.5h1M181 816.5h1M187 816.5h1M193 816.5h1M194 816.5h1M201 816.5h1M204 816.5h1M206 816.5h1M210 816.5h1M221 816.5h1M225 816.5h1M229 816.5h1M118 817.5h1M126 817.5h1M148 817.5h1M160 817.5h1M164 817.5h1M212 817.5h1M217 817.5h1M220 817.5h1M224 817.5h1M233 817.5h1M234 817.5h1M117 818.5h1M123 818.5h1M131 818.5h1M138 818.5h1M148 818.5h1M152 818.5h1M169 818.5h1M197 818.5h1M199 818.5h1M210 818.5h1M211 818.5h1M221 818.5h1M228 818.5h1M117 819.5h1M120 819.5h1M131 819.5h1M141 819.5h1M144 819.5h1M147 819.5h1M148 819.5h1M162 819.5h1M167 819.5h1M176 819.5h1M183 819.5h1M184 819.5h1M208 819.5h1M209 819.5h1M211 819.5h1M217 819.5h1M115 820.5h1M116 820.5h1M122 820.5h1M164 820.5h1M168 820.5h1M169 820.5h1M173 820.5h1M179 820.5h1M180 820.5h1M181 820.5h1M191 820.5h1M221 820.5h1M226 820.5h1M114 821.5h1M119 821.5h1M148 821.5h1M169 821.5h1M173 821.5h1M182 821.5h1M202 821.5h1M203 821.5h1M209 821.5h1M211 821.5h1M222 821.5h1M230 821.5h1M232 821.5h1M135 822.5h1M138 822.5h1M139 822.5h1M144 822.5h1M145 822.5h1M146 822.5h1M149 822.5h1M171 822.5h1M186 822.5h1M198 822.5h1M201 822.5h1M213 822.5h1M119 823.5h1M129 823.5h1M131 823.5h1M134 823.5h1M136 823.5h1M146 823.5h1M148 823.5h1M150 823.5h1M154 823.5h1M157 823.5h1M159 823.5h1M181 823.5h1M192 823.5h1M193 823.5h1M202 823.5h1M206 823.5h1M211 823.5h1M224 823.5h1M227 823.5h1M115 824.5h1M141 824.5h1M143 824.5h1M144 824.5h1M151 824.5h1M154 824.5h1M156 824.5h1M191 824.5h1M227 824.5h1M118 825.5h1M130 825.5h1M134 825.5h1M143 825.5h1M150 825.5h1M164 825.5h1M167 825.5h1M170 825.5h1M180 825.5h1M189 825.5h1M192 825.5h1M227 825.5h1M115 826.5h1M124 826.5h1M133 826.5h1M149 826.5h1M158 826.5h1M168 826.5h1M179 826.5h1M180 826.5h1M185 826.5h1M187 826.5h1M195 826.5h1M196 826.5h1M217 826.5h1M224 826.5h1M233 826.5h1M115 827.5h1M117 827.5h1M131 827.5h1M138 827.5h1M141 827.5h1M152 827.5h1M169 827.5h1M185 827.5h1M204 827.5h1M212 827.5h1M216 827.5h1M221 827.5h1M227 827.5h1M228 827.5h1M138 828.5h1M170 828.5h1M176 828.5h1M184 828.5h1M189 828.5h1M199 828.5h1M200 828.5h1M215 828.5h1M221 828.5h1M233 828.5h1"/>
<path class="s" d="M295 707.5h1M291 713.5h1M294 714.5h1M290 715.5h1M295 716.5h1M287 717.5h1M287 718.5h1M292 719.5h1M295 719.5h1M292 720.5h1M287 723.5h1M283 724.5h1M287 724.5h1M293 724.5h1M290 725.5h1M294 725.5h1M286 728.5h1M281 729.5h1M289 729.5h1M284 730.5h1M286 730.5h1M281 731.5h1M282 731.5h1M284 733.5h1M282 735.5h1M283 735.5h1M284 735.5h1M285 735.5h1M279 736.5h1M285 736.5h1M288 736.5h1M275 737.5h1M282 737.5h1M285 737.5h1M275 739.5h1M276 739.5h1M276 741.5h1M282 741.5h1M283 742.5h1M272 743.5h1M273 743.5h1M278 743.5h1M272 745.5h1M280 746.5h1M281 746.5h1M277 748.5h1M278 748.5h1M279 749.5h1M272 750.5h1M274 750.5h1M279 751.5h1M269 752.5h1M271 754.5h1M277 755.5h1M265 757.5h1M270 757.5h1M271 759.5h1M273 759.5h1M271 760.5h1M269 761.5h1M270 762.5h1M262 763.5h1M264 763.5h1M268 766.5h1M266 767.5h1M265 769.5h1M259 771.5h1M261 771.5h1M258 772.5h1M261 772.5h1M263 773.5h1M261 774.5h1M255 775.5h1M261 775.5h1M263 775.5h1M264 777.5h1M256 778.5h1M256 779.5h1M251 780.5h1M254 780.5h1M258 780.5h1M259 780.5h1M262 780.5h1M253 781.5h1M258 781.5h1M251 783.5h1M253 783.5h1M254 783.5h1M259 783.5h1M260 783.5h1M255 784.5h1M254 785.5h1M252 789.5h1M256 789.5h1M250 790.5h1M254 790.5h1M244 796.5h1M249 798.5h1M241 799.5h1M247 799.5h1M240 800.5h1M241 800.5h1M244 801.5h1M247 801.5h1M248 802.5h1M248 804.5h1M240 805.5h1M247 806.5h1M236 807.5h1M238 807.5h1M241 808.5h1M240 809.5h1M243 811.5h1M242 814.5h1M240 815.5h1M239 816.5h1M240 818.5h1M236 820.5h1M238 822.5h1M236 824.5h1M235 825.5h1"/>
<path d="M112.5 807.5L234.5 807.5L234.5 829.5L112.5 829.5Z"/>
<path d="M234.6 807.4L296.5 701.5L296.5 723.1L234.6 829.3"/>
<path d="M239.5 701.5L296.4 701.5"/>
<path d="M140.5 757.8L112.5 807.4L67.6 883.4"/>
<path class="t" d="M234.6 807.4L221.96 829.3"/>
<path d="M221.96 829.3L190.72 883.4"/>
<path d="M67.6 883.5L190.72 883.5"/>
<path class="a" d="M67.6 883.5L80.2 881L80.2 886Z"/>
<path class="a" d="M190.72 883.5L178.12 886L178.12 881Z"/>
<path d="M140.5 829.3L140.5 845.4"/>
<path d="M205.5 829.3L205.5 845.4"/>
<path d="M140.5 845.5L167.2 845.5L167.7 854.4L179.4 838.4L179.7 845.5L205.5 845.5"/>
<path d="M205.5 845.4L214.8 829.3"/>
<path d="M101.5 790.8L101.5 845.6"/>
<path class="a" d="M101.5 807.4L100 797.9L103 797.9Z"/>
<path class="a" d="M101.5 829.3L103 838.8L100 838.8Z"/>
<path d="M101.5 807.5L108.8 807.5"/>
<path d="M101.5 829.5L108.8 829.5"/>
<text transform="translate(97.1 818.4) rotate(-90) scale(0.66 1)" text-anchor="middle"><tspan font-size="22.5" class="h">d</tspan></text>
<path d="M112.5 807.4L112.5 781.3L234.6 762.4"/>
<path d="M112.5 781.3L112.5 807.4"/>
<path class="a" d="M112.5 807.4L109.75 794.2L115.25 794.2Z"/>
<path d="M136.5 777.52L136.5 807.4"/>
<path class="a" d="M136.5 807.4L133.75 794.2L139.25 794.2Z"/>
<path d="M161.5 773.74L161.5 807.4"/>
<path class="a" d="M161.5 807.4L158.75 794.2L164.25 794.2Z"/>
<path d="M185.5 769.96L185.5 807.4"/>
<path class="a" d="M185.5 807.4L182.75 794.2L188.25 794.2Z"/>
<path d="M210.5 766.18L210.5 807.4"/>
<path class="a" d="M210.5 807.4L207.75 794.2L213.25 794.2Z"/>
<path d="M234.5 762.4L234.5 807.4"/>
<path class="a" d="M234.5 807.4L231.75 794.2L237.25 794.2Z"/>
<path d="M234.6 762.4L296.4 656.5"/>
<path d="M296.5 656.5L296.5 701.5"/>
<path d="M248.5 739.19L248.5 784.19"/>
<path class="a" d="M248.5 784.19L245.75 770.99L251.25 770.99Z"/>
<path d="M259.5 719.27L259.5 764.27"/>
<path class="a" d="M259.5 764.27L256.75 751.07L262.25 751.07Z"/>
<path d="M271.5 698.66L271.5 743.66"/>
<path class="a" d="M271.5 743.66L268.75 730.46L274.25 730.46Z"/>
<path d="M283.5 677.36L283.5 722.36"/>
<path class="a" d="M283.5 722.36L280.75 709.16L286.25 709.16Z"/>
<path d="M296.5 655.36L296.5 700.36"/>
<path class="a" d="M296.5 700.36L293.75 687.16L299.25 687.16Z"/>
<path d="M234.6 807.5L280.5 807.5"/>
<path d="M302.3 701.5L341.5 701.5"/>
<path d="M280.5 807.4L341.5 701.5"/>
<path class="a" d="M280.5 807.4L284.62 795.23L288.96 797.73Z"/>
<path class="a" d="M341.5 701.5L337.38 713.67L333.04 711.17Z"/>
<path d="M84.96 855.5L207.06 855.5"/>
<path class="a" d="M84.96 855.5L97.56 853L97.56 858Z"/>
<path class="a" d="M207.06 855.5L194.46 858L194.46 853Z"/>
<path class="a" d="M137.2 855.5L124.6 858L124.6 853Z"/>
<path class="a" d="M137.2 855.5L149.8 853L149.8 858Z"/>
<path class="axo" d="M291.5 588.3L127.6 870"/>
<path d="M263.04 590.82 A22 24 0 0 1 303.79 606.34"/>
<path class="a" d="M302.6 619.7L301.48 606.07L305.87 606.42Z"/>
<text transform="translate(253.8 634) rotate(-60) scale(0.66 1)"><tspan font-size="29" class="n">γ</tspan><tspan font-size="22" dy="1.5">v</tspan><tspan font-size="31" dy="-1.5">M</tspan><tspan font-size="22" dy="1.5">u</tspan></text>
<text transform="translate(268.5 660) rotate(-60) scale(0.71 1)"><tspan font-size="20.5">y-y ekseni</tspan></text>
<text transform="translate(292.2 651.1) scale(0.66 1)"><tspan font-size="31" class="n">τ</tspan><tspan font-size="21" dy="9.4">pd,1</tspan></text>
<text transform="translate(222.4 745) scale(0.66 1)"><tspan font-size="31" class="n">τ</tspan><tspan font-size="21" dy="9.4">pd,1</tspan></text>
<text transform="translate(84.1 768) scale(0.66 1)"><tspan font-size="31" class="n">τ</tspan><tspan font-size="21" dy="9.4">pd,2</tspan></text>
<text transform="translate(105.2 878.5) scale(0.66 1)"><tspan font-size="19">c'</tspan></text>
<text transform="translate(165.5 878.5) scale(0.66 1)"><tspan font-size="19">c</tspan></text>
<text transform="translate(110.3 906.8) scale(0.7 1)"><tspan font-size="19">b</tspan><tspan font-size="15" dy="5.5">1</tspan><tspan font-size="19" dy="-5.5">= c</tspan><tspan font-size="15" dy="5.5">1</tspan><tspan font-size="19" dy="-5.5">+ d/2</tspan></text>
<text transform="translate(119 942.8) scale(0.66 1)"><tspan font-size="30.3">KÖŞE KOLON</tspan></text>
<text transform="translate(201.2 569) scale(0.66 1)"><tspan font-size="22">c</tspan><tspan font-size="15" dy="5.5">1</tspan></text>
<text transform="translate(100.5 639) rotate(-60) scale(0.66 1)"><tspan font-size="22">c</tspan><tspan font-size="15" dy="5.5">2</tspan></text>
<text transform="translate(335.3 755.9) rotate(-60) scale(0.76 0.92)" text-anchor="middle"><tspan font-size="21">b</tspan><tspan font-size="16" dy="5.5">2</tspan><tspan font-size="21" dy="-5.5">= c</tspan><tspan font-size="16" dy="5.5">2</tspan><tspan font-size="21" dy="-5.5">+ d/2</tspan></text>
<path d="M637.5 500.6L637.5 535.3"/>
<path d="M702.5 500.6L702.5 535.3"/>
<path d="M637.3 500.5L702.3 500.5"/>
<path class="a" d="M637.3 500.5L649.9 498L649.9 503Z"/>
<path class="a" d="M702.3 500.5L689.7 503L689.7 498Z"/>
<path d="M591.8 541.5L632 541.5"/>
<path d="M559.1 597.5L598.5 597.5"/>
<path d="M591.8 541.4L559.1 597.4"/>
<path class="a" d="M591.8 541.4L587.61 553.54L583.29 551.02Z"/>
<path class="a" d="M559.1 597.4L563.29 585.26L567.61 587.78Z"/>
<path d="M637.3 541.5L664.1 541.5L664.6 549.2L677.2 532.9L677.5 541.5L702.3 541.5"/>
<path d="M604.6 597.5L631.3 597.5L631.8 605.2L643.5 588.9L643.8 597.5L670.6 597.5"/>
<path d="M637.3 541.4L623.75 564.6L616.35 559.6L626.08 578.6L617.68 575L604.6 597.4"/>
<path d="M702.3 541.4L689.17 564.6L681.77 559.6L691.68 578.6L683.28 575L670.6 597.4"/>
<path d="M604.5 597.4L604.5 757.8"/>
<path class="t" d="M670.5 597.4L670.5 757.8"/>
<path d="M702.5 541.4L702.5 701.4"/>
<path d="M604.6 757.5L670.6 757.5"/>
<path d="M670.6 757.8L702.3 701.4"/>
<path class="dv" d="M637.5 603.4L637.5 701.4"/>
<path class="d" d="M637.3 701.5L702.3 701.5"/>
<path class="d" d="M637.3 701.4L604.6 757.8"/>
<path class="s" d="M518 807.5h1M519 807.5h1M525 807.5h1M534 807.5h1M535 807.5h1M541 807.5h1M545 807.5h1M548 807.5h1M559 807.5h1M617 807.5h1M661 807.5h1M694 807.5h1M695 807.5h1M532 808.5h1M543 808.5h1M551 808.5h1M553 808.5h1M565 808.5h1M568 808.5h1M580 808.5h1M586 808.5h1M588 808.5h1M590 808.5h1M597 808.5h1M600 808.5h1M601 808.5h1M602 808.5h1M603 808.5h1M604 808.5h1M607 808.5h1M615 808.5h1M618 808.5h1M636 808.5h1M648 808.5h1M657 808.5h1M661 808.5h1M662 808.5h1M676 808.5h1M678 808.5h1M684 808.5h1M520 809.5h1M539 809.5h1M542 809.5h1M550 809.5h1M552 809.5h1M557 809.5h1M568 809.5h1M587 809.5h1M589 809.5h1M593 809.5h1M622 809.5h1M673 809.5h1M674 809.5h1M682 809.5h1M691 809.5h1M692 809.5h1M525 810.5h1M550 810.5h1M562 810.5h1M579 810.5h1M583 810.5h1M587 810.5h1M588 810.5h1M594 810.5h1M608 810.5h1M612 810.5h1M624 810.5h1M642 810.5h1M649 810.5h1M666 810.5h1M677 810.5h1M697 810.5h1M537 811.5h1M542 811.5h1M547 811.5h1M560 811.5h1M578 811.5h1M604 811.5h1M608 811.5h1M640 811.5h1M651 811.5h1M665 811.5h1M668 811.5h1M675 811.5h1M519 812.5h1M520 812.5h1M526 812.5h1M533 812.5h1M547 812.5h1M552 812.5h1M564 812.5h1M578 812.5h1M590 812.5h1M604 812.5h1M615 812.5h1M623 812.5h1M637 812.5h1M642 812.5h1M643 812.5h1M647 812.5h1M649 812.5h1M672 812.5h1M693 812.5h1M698 812.5h1M525 813.5h1M528 813.5h1M536 813.5h1M540 813.5h1M551 813.5h1M576 813.5h1M581 813.5h1M597 813.5h1M605 813.5h1M608 813.5h1M617 813.5h1M624 813.5h1M632 813.5h1M634 813.5h1M640 813.5h1M645 813.5h1M662 813.5h1M669 813.5h1M672 813.5h1M675 813.5h1M688 813.5h1M690 813.5h1M521 814.5h1M522 814.5h1M530 814.5h1M531 814.5h1M532 814.5h1M558 814.5h1M576 814.5h1M579 814.5h1M615 814.5h1M617 814.5h1M634 814.5h1M636 814.5h1M639 814.5h1M670 814.5h1M671 814.5h1M676 814.5h1M683 814.5h1M692 814.5h1M693 814.5h1M519 815.5h1M533 815.5h1M545 815.5h1M546 815.5h1M548 815.5h1M583 815.5h1M594 815.5h1M603 815.5h1M624 815.5h1M631 815.5h1M641 815.5h1M651 815.5h1M667 815.5h1M677 815.5h1M681 815.5h1M682 815.5h1M685 815.5h1M689 815.5h1M518 816.5h1M549 816.5h1M557 816.5h1M572 816.5h1M580 816.5h1M596 816.5h1M604 816.5h1M605 816.5h1M607 816.5h1M618 816.5h1M622 816.5h1M623 816.5h1M645 816.5h1M646 816.5h1M669 816.5h1M673 816.5h1M680 816.5h1M684 816.5h1M686 816.5h1M518 817.5h1M530 817.5h1M535 817.5h1M538 817.5h1M540 817.5h1M548 817.5h1M556 817.5h1M559 817.5h1M564 817.5h1M566 817.5h1M590 817.5h1M598 817.5h1M611 817.5h1M646 817.5h1M657 817.5h1M663 817.5h1M672 817.5h1M678 817.5h1M695 817.5h1M697 817.5h1M698 817.5h1M523 818.5h1M537 818.5h1M542 818.5h1M547 818.5h1M559 818.5h1M561 818.5h1M563 818.5h1M564 818.5h1M569 818.5h1M570 818.5h1M590 818.5h1M603 818.5h1M618 818.5h1M663 818.5h1M679 818.5h1M683 818.5h1M522 819.5h1M538 819.5h1M549 819.5h1M552 819.5h1M567 819.5h1M570 819.5h1M576 819.5h1M584 819.5h1M589 819.5h1M590 819.5h1M607 819.5h1M620 819.5h1M623 819.5h1M637 819.5h1M648 819.5h1M649 819.5h1M650 819.5h1M531 820.5h1M533 820.5h1M566 820.5h1M586 820.5h1M593 820.5h1M614 820.5h1M623 820.5h1M631 820.5h1M648 820.5h1M659 820.5h1M663 820.5h1M693 820.5h1M694 820.5h1M526 821.5h1M527 821.5h1M531 821.5h1M536 821.5h1M541 821.5h1M543 821.5h1M549 821.5h1M571 821.5h1M585 821.5h1M588 821.5h1M605 821.5h1M615 821.5h1M616 821.5h1M618 821.5h1M619 821.5h1M642 821.5h1M659 821.5h1M671 821.5h1M682 821.5h1M518 822.5h1M522 822.5h1M523 822.5h1M524 822.5h1M526 822.5h1M542 822.5h1M563 822.5h1M565 822.5h1M566 822.5h1M586 822.5h1M590 822.5h1M602 822.5h1M603 822.5h1M609 822.5h1M640 822.5h1M641 822.5h1M644 822.5h1M652 822.5h1M653 822.5h1M661 822.5h1M663 822.5h1M681 822.5h1M690 822.5h1M692 822.5h1M518 823.5h1M523 823.5h1M524 823.5h1M528 823.5h1M529 823.5h1M530 823.5h1M536 823.5h1M552 823.5h1M567 823.5h1M583 823.5h1M590 823.5h1M626 823.5h1M631 823.5h1M661 823.5h1M663 823.5h1M674 823.5h1M676 823.5h1M686 823.5h1M690 823.5h1M523 824.5h1M526 824.5h1M531 824.5h1M537 824.5h1M555 824.5h1M573 824.5h1M576 824.5h1M581 824.5h1M589 824.5h1M604 824.5h1M613 824.5h1M615 824.5h1M626 824.5h1M640 824.5h1M648 824.5h1M661 824.5h1M673 824.5h1M683 824.5h1M690 824.5h1M692 824.5h1M534 825.5h1M545 825.5h1M548 825.5h1M563 825.5h1M566 825.5h1M569 825.5h1M576 825.5h1M599 825.5h1M641 825.5h1M656 825.5h1M660 825.5h1M670 825.5h1M681 825.5h1M682 825.5h1M685 825.5h1M518 826.5h1M519 826.5h1M556 826.5h1M557 826.5h1M560 826.5h1M567 826.5h1M577 826.5h1M587 826.5h1M596 826.5h1M600 826.5h1M615 826.5h1M616 826.5h1M628 826.5h1M629 826.5h1M633 826.5h1M645 826.5h1M653 826.5h1M654 826.5h1M679 826.5h1M687 826.5h1M531 827.5h1M535 827.5h1M539 827.5h1M542 827.5h1M551 827.5h1M552 827.5h1M554 827.5h1M561 827.5h1M571 827.5h1M577 827.5h1M644 827.5h1M665 827.5h1M668 827.5h1M673 827.5h1M675 827.5h1M524 828.5h1M527 828.5h1M534 828.5h1M544 828.5h1M548 828.5h1M550 828.5h1M573 828.5h1M583 828.5h1M597 828.5h1M602 828.5h1M633 828.5h1M636 828.5h1M656 828.5h1M660 828.5h1M669 828.5h1M676 828.5h1"/>
<path class="s" d="M788 653.5h1M789 653.5h1M787 655.5h1M789 657.5h1M787 662.5h1M787 663.5h1M783 664.5h1M788 665.5h1M781 666.5h1M783 666.5h1M786 669.5h1M789 669.5h1M780 670.5h1M785 670.5h1M776 675.5h1M786 676.5h1M777 677.5h1M778 680.5h1M779 680.5h1M774 681.5h1M775 681.5h1M779 681.5h1M779 682.5h1M779 683.5h1M774 684.5h1M772 685.5h1M778 685.5h1M779 685.5h1M769 687.5h1M777 687.5h1M772 688.5h1M771 689.5h1M772 689.5h1M778 689.5h1M769 690.5h1M776 690.5h1M770 691.5h1M773 692.5h1M765 694.5h1M768 694.5h1M774 694.5h1M764 695.5h1M767 695.5h1M770 695.5h1M771 695.5h1M770 696.5h1M763 697.5h1M764 698.5h1M768 698.5h1M766 699.5h1M761 700.5h1M762 703.5h1M771 703.5h1M769 704.5h1M758 705.5h1M762 706.5h1M765 706.5h1M766 707.5h1M763 708.5h1M756 710.5h1M758 711.5h1M763 711.5h1M754 712.5h1M756 713.5h1M760 714.5h1M755 715.5h1M761 715.5h1M754 716.5h1M755 716.5h1M762 716.5h1M751 717.5h1M754 717.5h1M755 717.5h1M762 717.5h1M762 718.5h1M752 721.5h1M751 722.5h1M749 723.5h1M753 724.5h1M751 725.5h1M757 725.5h1M746 729.5h1M747 730.5h1M743 731.5h1M754 731.5h1M745 732.5h1M748 732.5h1M746 733.5h1M750 733.5h1M744 734.5h1M748 741.5h1M736 742.5h1M744 742.5h1M740 743.5h1M741 743.5h1M737 745.5h1M746 745.5h1M738 747.5h1M744 747.5h1M739 748.5h1M733 749.5h1M737 749.5h1M738 749.5h1M739 749.5h1M736 750.5h1M740 751.5h1M734 753.5h1M735 754.5h1M736 755.5h1M739 755.5h1M733 756.5h1M729 757.5h1M738 757.5h1M727 758.5h1M733 758.5h1M729 759.5h1M730 759.5h1M738 760.5h1M728 761.5h1M735 761.5h1M728 762.5h1M736 763.5h1M726 766.5h1M724 767.5h1M733 767.5h1M726 768.5h1M727 768.5h1M726 769.5h1M726 771.5h1M731 771.5h1M719 772.5h1M724 772.5h1M723 774.5h1M725 774.5h1M724 776.5h1M716 777.5h1M718 777.5h1M723 777.5h1M722 778.5h1M722 779.5h1M716 781.5h1M722 781.5h1M718 783.5h1M720 783.5h1M715 784.5h1M717 784.5h1M717 785.5h1M718 786.5h1M712 787.5h1M719 787.5h1M721 787.5h1M712 789.5h1M712 792.5h1M707 793.5h1M711 794.5h1M708 795.5h1M711 796.5h1M713 796.5h1M706 797.5h1M709 797.5h1M716 797.5h1M714 798.5h1M715 799.5h1M703 801.5h1M708 803.5h1M701 804.5h1M699 809.5h1M705 809.5h1M703 811.5h1M707 811.5h1M699 812.5h1M707 813.5h1M703 814.5h1M704 815.5h1M705 815.5h1M701 819.5h1"/>
<path d="M518.5 807.5L698.5 807.5L698.5 829.5L518.5 829.5Z"/>
<path d="M698.6 807.4L789.5 651.4L789.5 673L698.6 829.3"/>
<path d="M609.5 651.5L789.6 651.5"/>
<path d="M609.5 651.4L518.5 807.4L471.33 889.1"/>
<path class="t" d="M698.6 807.4L685.96 829.3"/>
<path d="M685.96 829.3L651.43 889.1"/>
<path d="M471.33 889.5L651.43 889.5"/>
<path class="a" d="M471.33 889.5L483.93 887L483.93 892Z"/>
<path class="a" d="M651.43 889.5L638.83 892L638.83 887Z"/>
<path d="M604.5 829.3L604.5 845.4"/>
<path class="t" d="M670.5 829.3L670.5 845.4"/>
<path d="M604.6 845.5L631.3 845.5L631.8 854.4L643.5 838.4L643.8 845.5L670.6 845.5"/>
<path d="M670.6 845.4L679.9 829.3"/>
<path d="M509.5 790.8L509.5 845.6"/>
<path class="a" d="M509.5 807.4L508 797.9L511 797.9Z"/>
<path class="a" d="M509.5 829.3L511 838.8L508 838.8Z"/>
<path d="M509.3 807.5L516.6 807.5"/>
<path d="M509.3 829.5L516.6 829.5"/>
<text transform="translate(504.9 818.4) rotate(-90) scale(0.66 1)" text-anchor="middle"><tspan font-size="22.5" class="h">d</tspan></text>
<path d="M518.5 807.4L518.5 785L698.5 762.4L698.5 807.4"/>
<path d="M609.5 651.4L609.5 629L789.5 606.4L789.5 651.4"/>
<path d="M518.5 785L518.5 807.4"/>
<path class="a" d="M518.5 807.4L515.75 794.2L521.25 794.2Z"/>
<path d="M555.5 780.34L555.5 807.4"/>
<path class="a" d="M555.5 807.4L552.75 794.2L558.25 794.2Z"/>
<path d="M584.5 776.74L584.5 807.4"/>
<path class="a" d="M584.5 807.4L581.75 794.2L587.25 794.2Z"/>
<path d="M613.5 773.07L613.5 807.4"/>
<path class="a" d="M613.5 807.4L610.75 794.2L616.25 794.2Z"/>
<path d="M642.5 769.43L642.5 807.4"/>
<path class="a" d="M642.5 807.4L639.75 794.2L645.25 794.2Z"/>
<path d="M671.5 765.85L671.5 807.4"/>
<path class="a" d="M671.5 807.4L668.75 794.2L674.25 794.2Z"/>
<path d="M698.5 762.4L698.5 807.4"/>
<path class="a" d="M698.5 807.4L695.75 794.2L701.25 794.2Z"/>
<path d="M609.5 629L609.5 651.4"/>
<path class="a" d="M609.5 651.4L606.75 638.2L612.25 638.2Z"/>
<path d="M645.5 624.46L645.5 651.4"/>
<path class="a" d="M645.5 651.4L642.75 638.2L648.25 638.2Z"/>
<path d="M674.5 620.87L674.5 651.4"/>
<path class="a" d="M674.5 651.4L671.75 638.2L677.25 638.2Z"/>
<path d="M702.5 617.29L702.5 651.4"/>
<path class="a" d="M702.5 651.4L699.75 638.2L705.25 638.2Z"/>
<path d="M731.5 613.67L731.5 651.4"/>
<path class="a" d="M731.5 651.4L728.75 638.2L734.25 638.2Z"/>
<path d="M760.5 610.05L760.5 651.4"/>
<path class="a" d="M760.5 651.4L757.75 638.2L763.25 638.2Z"/>
<path d="M789.5 606.4L789.5 651.4"/>
<path class="a" d="M789.5 651.4L786.75 638.2L792.25 638.2Z"/>
<path d="M518.5 785L609.5 629"/>
<path d="M698.6 762.4L789.6 606.4"/>
<path d="M533.5 759.54L533.5 781.94"/>
<path class="a" d="M533.5 781.94L530.75 768.74L536.25 768.74Z"/>
<path d="M713.5 736.94L713.5 781.94"/>
<path class="a" d="M713.5 781.94L710.75 768.74L716.25 768.74Z"/>
<path d="M549.5 731.83L549.5 754.23"/>
<path class="a" d="M549.5 754.23L546.75 741.03L552.25 741.03Z"/>
<path d="M729.5 709.23L729.5 754.23"/>
<path class="a" d="M729.5 754.23L726.75 741.03L732.25 741.03Z"/>
<path d="M562.5 708.27L562.5 730.67"/>
<path class="a" d="M562.5 730.67L559.75 717.47L565.25 717.47Z"/>
<path d="M742.5 685.67L742.5 730.67"/>
<path class="a" d="M742.5 730.67L739.75 717.47L745.25 717.47Z"/>
<path d="M576.5 684.02L576.5 706.42"/>
<path class="a" d="M576.5 706.42L573.75 693.22L579.25 693.22Z"/>
<path d="M756.5 661.42L756.5 706.42"/>
<path class="a" d="M756.5 706.42L753.75 693.22L759.25 693.22Z"/>
<path d="M591.5 658.56L591.5 680.96"/>
<path class="a" d="M591.5 680.96L588.75 667.76L594.25 667.76Z"/>
<path d="M771.5 635.96L771.5 680.96"/>
<path class="a" d="M771.5 680.96L768.75 667.76L774.25 667.76Z"/>
<path d="M698.6 807.5L754.5 807.5"/>
<path d="M795 651.5L845.5 651.5"/>
<path d="M754.5 807.4L845.5 651.4"/>
<path class="a" d="M754.5 807.4L758.69 795.26L763.01 797.78Z"/>
<path class="a" d="M845.5 651.4L841.31 663.54L836.99 661.02Z"/>
<path d="M489.17 858.5L669.27 858.5"/>
<path class="a" d="M489.17 858.5L501.77 856L501.77 861Z"/>
<path class="a" d="M669.27 858.5L656.67 861L656.67 856Z"/>
<path class="a" d="M580 858.5L567.4 861L567.4 856Z"/>
<path class="a" d="M580 858.5L592.6 856L592.6 861Z"/>
<path class="axo" d="M767 535.2L572.5 870.6"/>
<path d="M737.64 537.82 A22 24 0 0 1 778.39 553.34"/>
<path class="a" d="M777.2 566.7L776.08 553.07L780.47 553.42Z"/>
<text transform="translate(728.4 581) rotate(-60) scale(0.66 1)"><tspan font-size="29" class="n">γ</tspan><tspan font-size="22" dy="1.5">v</tspan><tspan font-size="31" dy="-1.5">M</tspan><tspan font-size="22" dy="1.5">u</tspan></text>
<text transform="translate(743.1 607) rotate(-60) scale(0.71 1)"><tspan font-size="20.5">y-y ekseni</tspan></text>
<text transform="translate(797.3 609.3) scale(0.66 1)"><tspan font-size="31" class="n">τ</tspan><tspan font-size="21" dy="9.4">pd,1</tspan></text>
<text transform="translate(677 744) scale(0.66 1)"><tspan font-size="31" class="n">τ</tspan><tspan font-size="21" dy="9.4">pd,1</tspan></text>
<text transform="translate(472.2 783.2) scale(0.66 1)"><tspan font-size="31" class="n">τ</tspan><tspan font-size="21" dy="9.4">pd,2</tspan></text>
<text transform="translate(568.1 617) scale(0.66 1)"><tspan font-size="31" class="n">τ</tspan><tspan font-size="21" dy="9.4">pd,2</tspan></text>
<text transform="translate(521.6 879.7) scale(0.66 1)"><tspan font-size="19">c'</tspan></text>
<text transform="translate(616.3 879.7) scale(0.66 1)"><tspan font-size="19">c</tspan></text>
<text transform="translate(535.3 913.1) scale(0.7 1)"><tspan font-size="19">b</tspan><tspan font-size="15" dy="5.5">1</tspan><tspan font-size="19" dy="-5.5">= c</tspan><tspan font-size="15" dy="5.5">1</tspan><tspan font-size="19" dy="-5.5">+ d</tspan></text>
<text transform="translate(600.4 936.3) scale(0.65 1)"><tspan font-size="30">İÇ KOLON</tspan></text>
<text transform="translate(666 491.5) scale(0.66 1)"><tspan font-size="22">c</tspan><tspan font-size="15" dy="5.5">1</tspan></text>
<text transform="translate(562.2 563) rotate(-60) scale(0.66 1)"><tspan font-size="22">c</tspan><tspan font-size="15" dy="5.5">2</tspan></text>
<text transform="translate(826.6 727.6) rotate(-60) scale(0.76 0.92)" text-anchor="middle"><tspan font-size="21">b</tspan><tspan font-size="16" dy="5.5">2</tspan><tspan font-size="21" dy="-5.5">= c</tspan><tspan font-size="16" dy="5.5">2</tspan><tspan font-size="21" dy="-5.5">+ d</tspan></text>
</svg>
</body></html>
